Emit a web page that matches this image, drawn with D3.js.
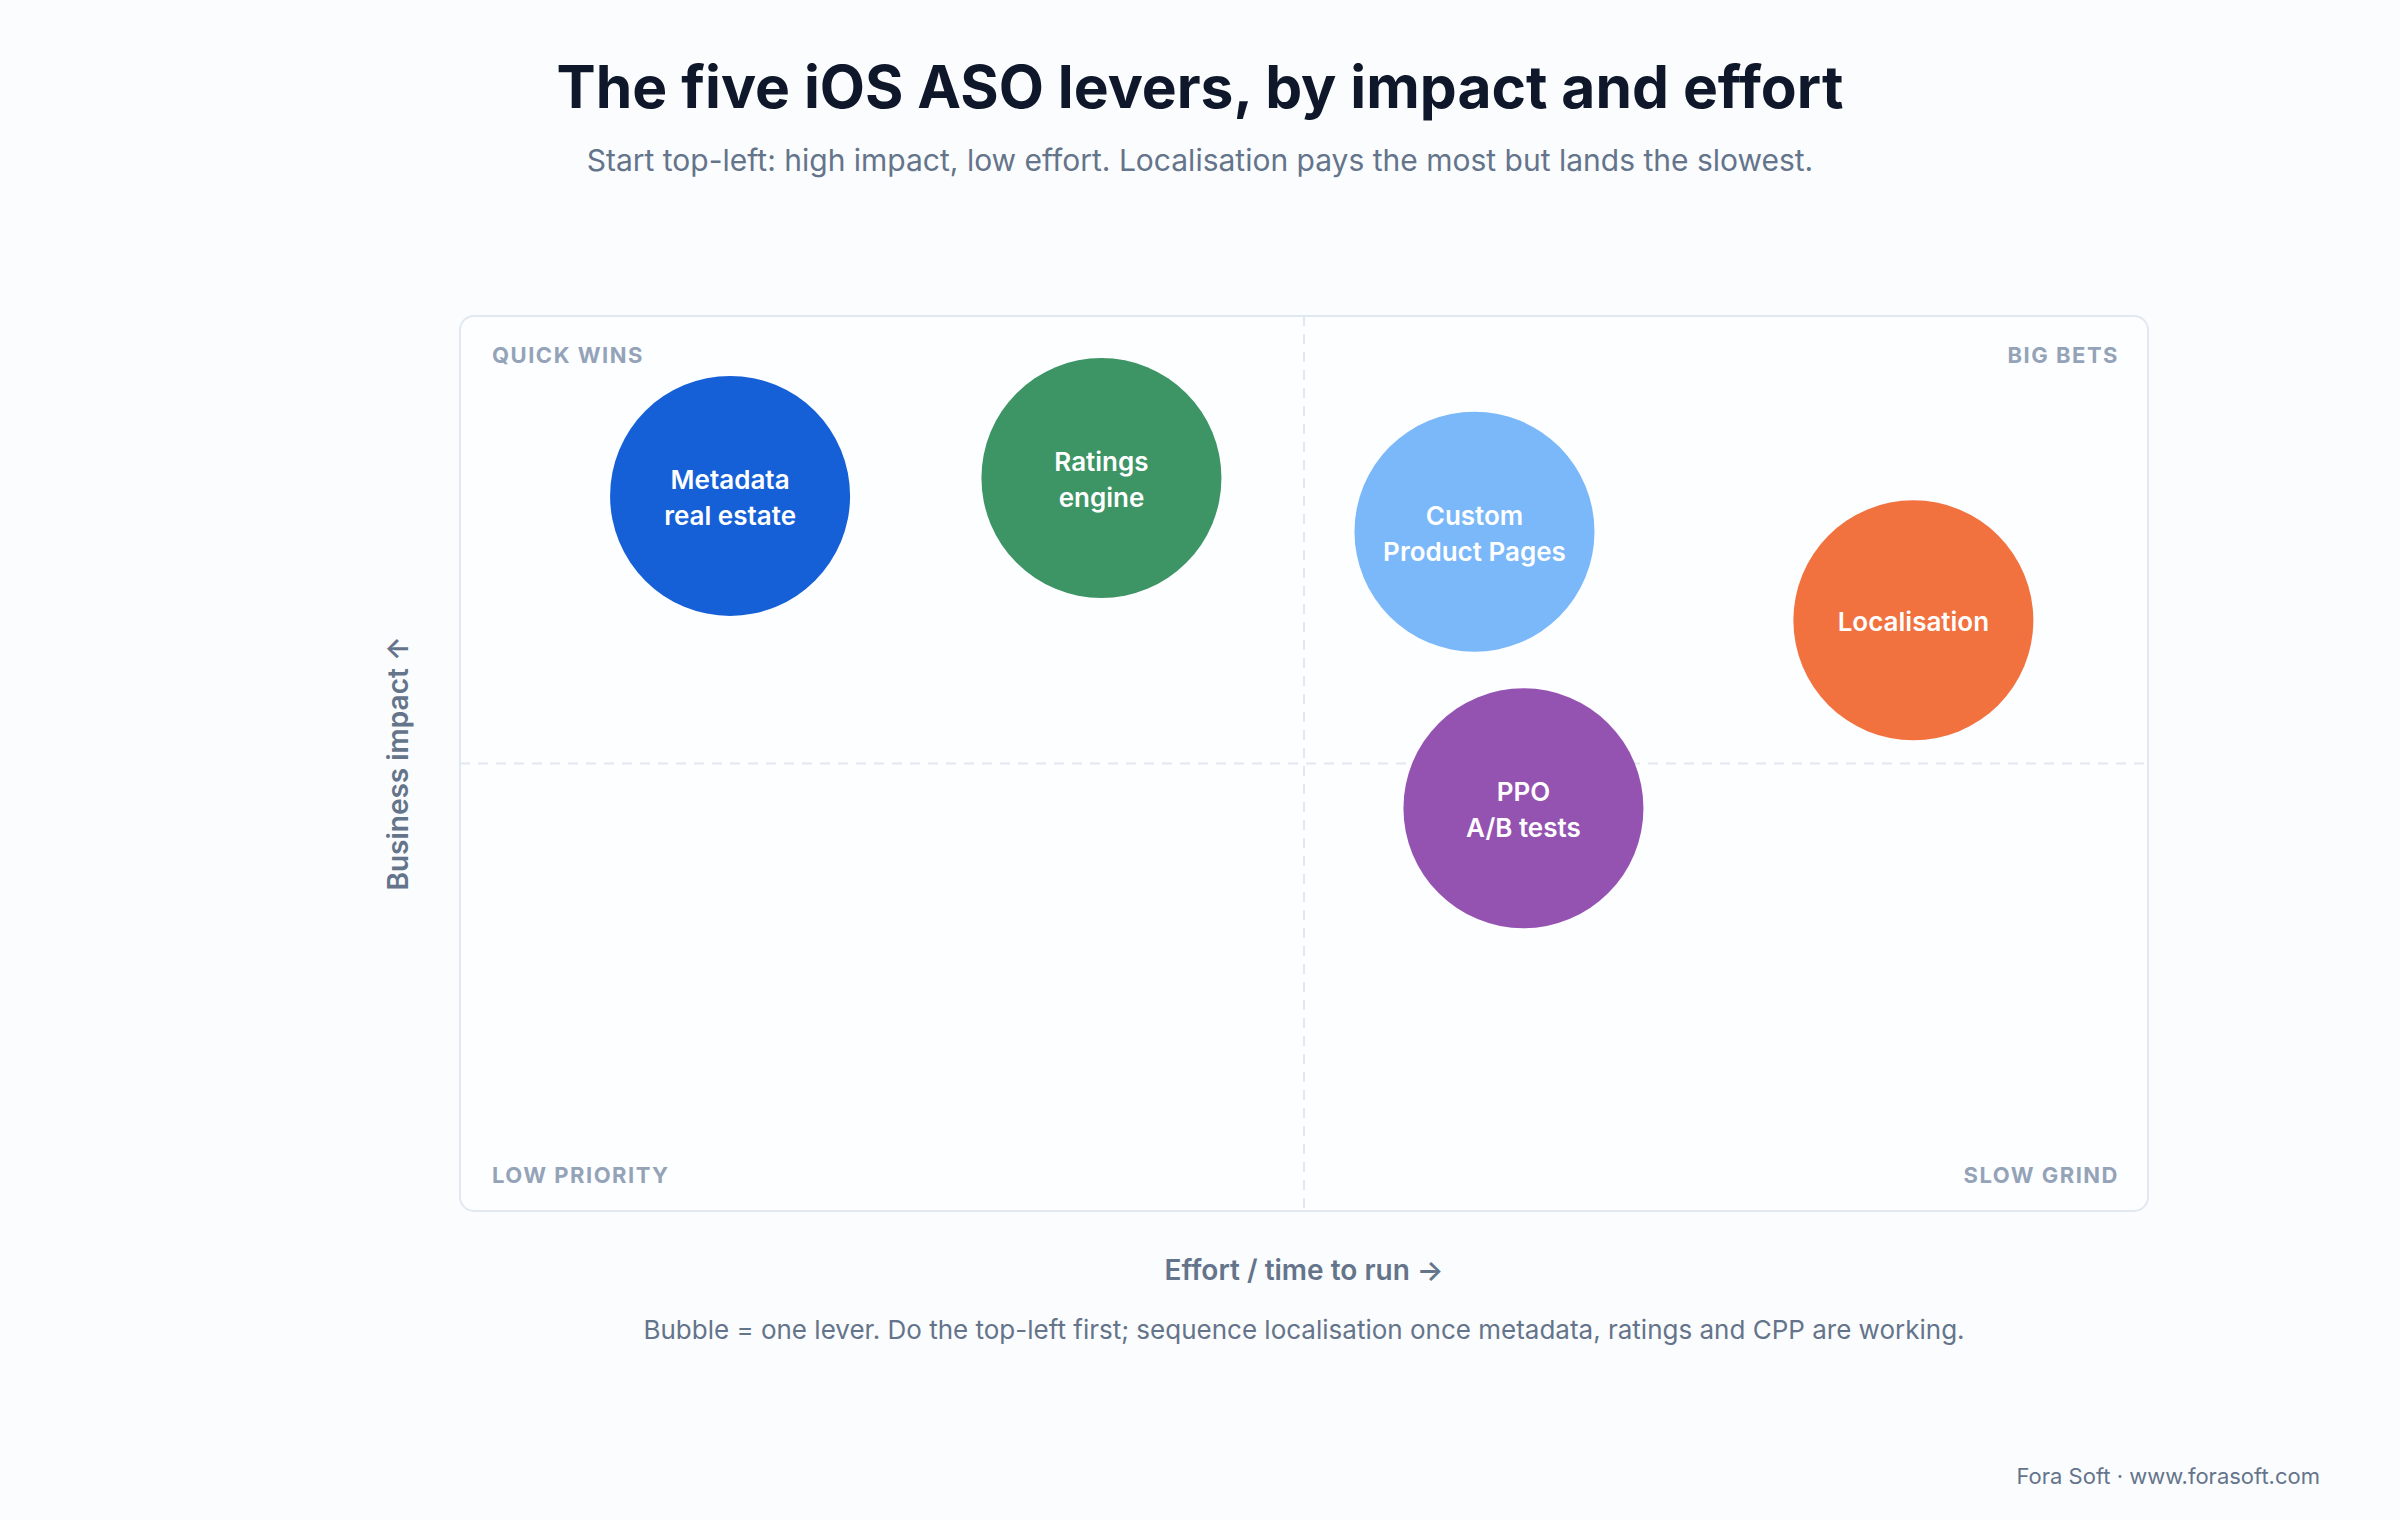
<!DOCTYPE html>
<html>
<head>
<meta charset="utf-8">
<script src="https://cdn.jsdelivr.net/npm/d3@7/dist/d3.min.js"></script>
<style>
  html, body { margin: 0; padding: 0; background: #fbfcfd; }
  svg { display: block; font-family: Inter, "Noto Sans", sans-serif; }
</style>
</head>
<body>
<svg id="chart" width="2400" height="1520"></svg>
<script>
// ---- data ----
const levers = ["Metadata\nreal estate", "Ratings\nengine", "Custom\nProduct Pages", "PPO\nA/B tests", "Localisation"];
const effort = [1.60, 3.80, 6.01, 6.30, 8.61];   // 0-10, low -> high
const impact = [7.99, 8.19, 7.59, 4.50, 6.60];   // 0-10, low -> high
const colors = ["#155fd7", "#3d9465", "#7ab8fa", "#9553b1", "#f2723f"];
const quadrantLabels = ["QUICK WINS", "BIG BETS", "LOW PRIORITY", "SLOW GRIND"];

const title = "The five iOS ASO levers, by impact and effort";
const subtitle = "Start top-left: high impact, low effort. Localisation pays the most but lands the slowest.";
const xLabel = "Effort / time to run \u2192";
const yLabel = "Business impact \u2191";
const note = "Bubble = one lever. Do the top-left first; sequence localisation once metadata, ratings and CPP are working.";
const credit = "Fora Soft \u00b7 www.forasoft.com";

// ---- layout ----
const svg = d3.select("#chart");
const W = 2400, H = 1520;
const box = { left: 460, right: 2148, top: 316, bottom: 1211 };

const x = d3.scaleLinear().domain([0, 10]).range([box.left, box.right]);
const y = d3.scaleLinear().domain([0, 10]).range([box.bottom, box.top]);
const r = d3.scaleSqrt().domain([0, 1]).range([0, 120]);

svg.append("rect").attr("width", W).attr("height", H).attr("fill", "#fbfcfd");

// title & subtitle
svg.append("text").attr("x", 1200).attr("y", 108).attr("text-anchor", "middle")
  .attr("font-size", 58.7).attr("font-weight", 700).attr("fill", "#0f172a").text(title);
svg.append("text").attr("x", 1200).attr("y", 171).attr("text-anchor", "middle")
  .attr("font-size", 30).attr("font-weight", 400).attr("fill", "#64748b").text(subtitle);

// plot box
svg.append("rect")
  .attr("x", box.left).attr("y", box.top)
  .attr("width", box.right - box.left).attr("height", box.bottom - box.top)
  .attr("rx", 14).attr("ry", 14)
  .attr("fill", "#fdfeff").attr("stroke", "#e2e8f0").attr("stroke-width", 2);

// midlines
svg.append("line")
  .attr("x1", x(5)).attr("x2", x(5)).attr("y1", box.top).attr("y2", box.bottom)
  .attr("stroke", "#e2e8f0").attr("stroke-width", 2).attr("stroke-dasharray", "10 8");
svg.append("line")
  .attr("x1", box.left).attr("x2", box.right).attr("y1", y(5)).attr("y2", y(5))
  .attr("stroke", "#e2e8f0").attr("stroke-width", 2).attr("stroke-dasharray", "10 8");

// quadrant labels
const qPos = [
  { x: box.left + 32, y: box.top + 47, anchor: "start" },
  { x: box.right - 29, y: box.top + 47, anchor: "end" },
  { x: box.left + 32, y: box.bottom - 28, anchor: "start" },
  { x: box.right - 29, y: box.bottom - 28, anchor: "end" }
];
svg.append("g").selectAll("text").data(quadrantLabels).join("text")
  .attr("x", (d, i) => qPos[i].x).attr("y", (d, i) => qPos[i].y)
  .attr("text-anchor", (d, i) => qPos[i].anchor)
  .attr("font-size", 22).attr("font-weight", 700).attr("letter-spacing", 1.5)
  .attr("fill", "#94a3b8").text(d => d);

// bubbles
const data = levers.map((name, i) => ({ name, effort: effort[i], impact: impact[i], color: colors[i] }));
const g = svg.append("g").selectAll("g").data(data).join("g")
  .attr("transform", d => `translate(${x(d.effort)},${y(d.impact)})`);
g.append("circle").attr("r", r(1)).attr("fill", d => d.color);
g.each(function (d) {
  const lines = d.name.split("\n");
  const lh = 36;
  const t = d3.select(this).append("text").attr("text-anchor", "middle")
    .attr("font-size", 26).attr("font-weight", 600).attr("fill", "#ffffff");
  lines.forEach((ln, k) => {
    t.append("tspan").attr("x", 0)
      .attr("y", (k - (lines.length - 1) / 2) * lh + 11)
      .text(ln);
  });
});

// axis labels
svg.append("text").attr("x", x(5)).attr("y", 1280).attr("text-anchor", "middle")
  .attr("font-size", 28).attr("font-weight", 600).attr("fill", "#64748b").text(xLabel);
svg.append("text")
  .attr("transform", `translate(408,${y(5)}) rotate(-90)`)
  .attr("text-anchor", "middle")
  .attr("font-size", 28).attr("font-weight", 600).attr("fill", "#64748b").text(yLabel);

// note & credit
svg.append("text").attr("x", x(5)).attr("y", 1339).attr("text-anchor", "middle")
  .attr("font-size", 26).attr("font-weight", 400).attr("fill", "#64748b").text(note);
svg.append("text").attr("x", 2320).attr("y", 1484).attr("text-anchor", "end")
  .attr("font-size", 22).attr("font-weight", 400).attr("fill", "#64748b").text(credit);
</script>
</body>
</html>
